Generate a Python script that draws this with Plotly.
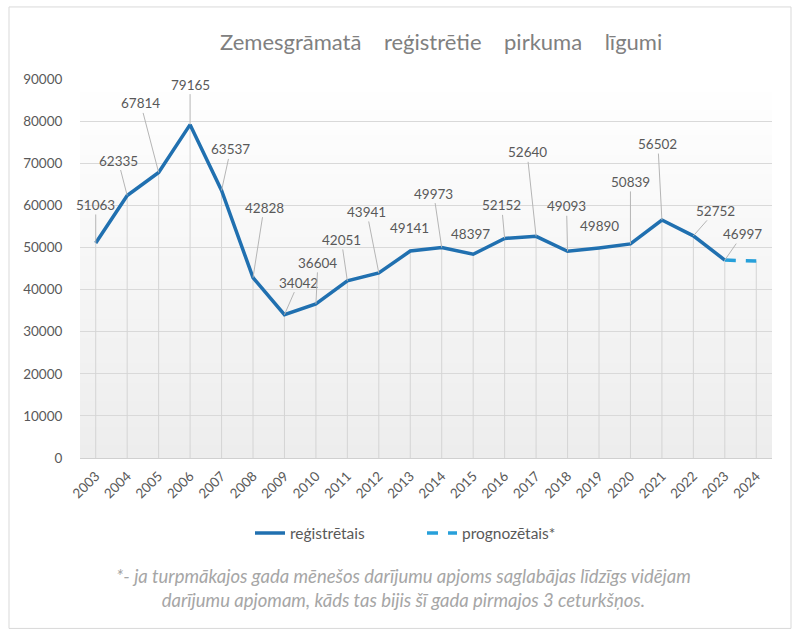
import plotly.graph_objects as go

years = [str(y) for y in range(2003, 2025)]
registered = [51063, 62335, 67814, 79165, 63537, 42828, 34042, 36604, 42051, 43941,
              49141, 49973, 48397, 52152, 52640, 49093, 49890, 50839, 56502, 52752,
              46997, None]
forecast = [None] * 20 + [46997, 46800]
y_ticks = [0, 10000, 20000, 30000, 40000, 50000, 60000, 70000, 80000, 90000]

title_text = "\u00a0\u00a0\u00a0\u00a0".join(["Zemesgrāmatā", "reģistrētie", "pirkuma", "līgumi"])
series_names = ["reģistrētais", "prognozētais*"]
footnote = ("*- ja turpmākajos gada mēnešos darījumu apjoms saglabājas līdzīgs vidējam<br>"
            "darījumu apjomam, kāds tas bijis šī gada pirmajos 3 ceturkšņos.")

# label offsets (pixels) relative to each point
label_offsets = [(0, -38), (-9, -35), (-18, -69), (0, -40), (9, -41), (11, -70),
                 (14, -32), (2, -41), (-6, -41), (-12, -61), (-1, -23), (-8, -54),
                 (-3, -20), (-3, -33), (-9, -84), (-1, -45), (0, -22), (0, -62),
                 (-4, -76), (22, -25), (18, -26)]

FONT = "Lato, 'Open Sans', sans-serif"
DARK_BLUE = "#2070b0"
LIGHT_BLUE = "#27a0da"

fig = go.Figure()

# background gradient strips
n = 60
shapes = []
for i in range(n):
    t = i / (n - 1)
    c = int(round(237 + (255 - 237) * t))
    shapes.append(dict(type="rect", xref="paper", yref="paper", x0=0, x1=1,
                       y0=i / n, y1=(i + 1) / n + 0.002, layer="below",
                       fillcolor=f"rgb({c},{c},{c})", line=dict(width=0)))
# chart border
shapes.append(dict(type="rect", xref="paper", yref="paper",
                   x0=(9 - 80) / 692, x1=(791 - 80) / 692,
                   y0=(457.7 - 628) / 378.7, y1=(457.7 - 7) / 378.7,
                   line=dict(color="#d9d9d9", width=1), fillcolor="rgba(0,0,0,0)"))

combined = [r if r is not None else f for r, f in zip(registered, forecast)]

# drop lines
fig.add_trace(go.Scatter(
    x=years, y=combined, mode="markers",
    marker=dict(size=1, color="rgba(0,0,0,0)"),
    error_y=dict(type="data", symmetric=False, array=[0] * len(combined),
                 arrayminus=combined, color="#d4d4d4", thickness=1, width=0),
    showlegend=False, hoverinfo="skip"))

fig.add_trace(go.Scatter(
    x=years, y=registered, mode="lines", name=series_names[0],
    line=dict(color=DARK_BLUE, width=3.5)))
fig.add_trace(go.Scatter(
    x=years, y=forecast, mode="lines", name=series_names[1],
    line=dict(color=LIGHT_BLUE, width=3.5, dash="11px,10px")))

annotations = []
for i, v in enumerate(registered):
    if v is None:
        continue
    dx, dy = label_offsets[i]
    annotations.append(dict(
        x=i, y=v, xref="x", yref="y", text=str(v),
        showarrow=True, ax=dx, ay=dy, arrowhead=0, arrowwidth=1,
        arrowcolor="#b5b5b5" if abs(dy) > 24 else "rgba(0,0,0,0)", standoff=0,
        font=dict(family=FONT, size=13.5, color="#595959")))

annotations.append(dict(
    text=title_text, xref="paper", yref="paper",
    x=(441 - 80) / 692, y=(457.7 - 42) / 378.7, xanchor="center", yanchor="middle",
    showarrow=False, font=dict(family=FONT, size=22, color="#808080")))
annotations.append(dict(
    text="<i>" + footnote + "</i>", xref="paper", yref="paper",
    x=(403 - 80) / 692, y=(457.7 - 588) / 378.7, xanchor="center", yanchor="middle",
    showarrow=False, align="center",
    font=dict(family=FONT, size=18.5, color="#a6a6a6")))

fig.update_layout(
    width=793, height=630,
    margin=dict(l=80, r=21, t=79, b=172.3),
    paper_bgcolor="white", plot_bgcolor="rgba(0,0,0,0)",
    shapes=shapes, annotations=annotations,
    font=dict(family=FONT, color="#595959"),
    legend=dict(orientation="h", xanchor="left", yanchor="middle",
                x=(250 - 80) / 692, y=(457.7 - 533) / 378.7,
                entrywidth=127, entrywidthmode="pixels",
                font=dict(family=FONT, size=15.5, color="#595959"),
                bgcolor="rgba(0,0,0,0)"),
    xaxis=dict(type="category", range=[-0.5, 21.5], showgrid=False, zeroline=False,
               showline=False, tickangle=-45, ticks="outside", ticklen=4,
               tickcolor="rgba(0,0,0,0)",
               tickfont=dict(family=FONT, size=13.5, color="#595959"), fixedrange=True),
    yaxis=dict(range=[0, 90000], tickvals=y_ticks, tickformat="d",
               showgrid=True, gridcolor="#d9d9d9", gridwidth=1,
               zeroline=True, zerolinecolor="#d0d0d0", zerolinewidth=1,
               showline=False, ticks="outside", ticklen=14, tickcolor="rgba(0,0,0,0)",
               tickfont=dict(family=FONT, size=13.5, color="#595959"), fixedrange=True),
)

fig.write_html("out.html", post_script="document.body.style.margin='0';",
               config={"displayModeBar": False})
